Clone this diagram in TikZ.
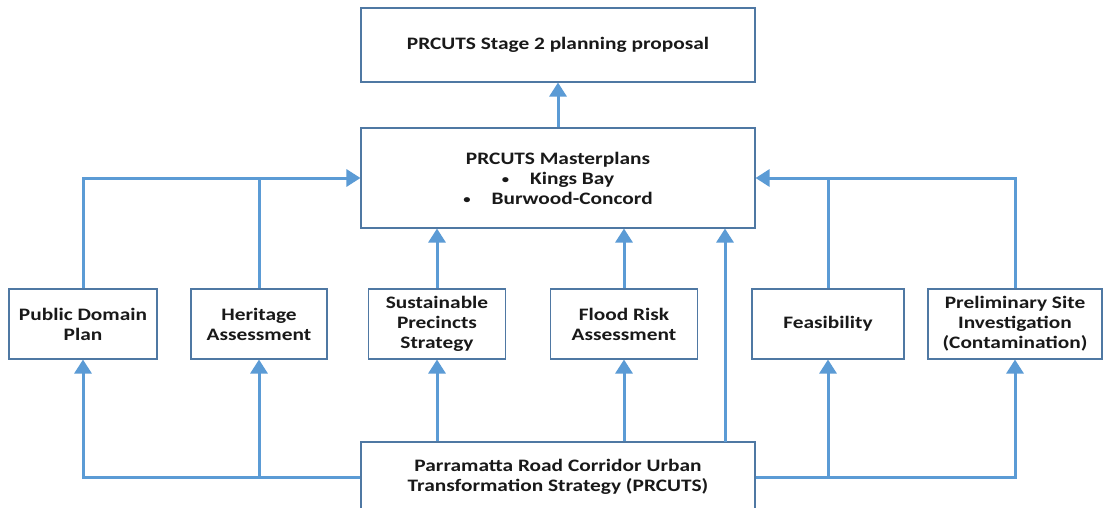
\documentclass[tikz,border=0pt]{standalone}
\usepackage{fontspec}
\setmainfont[FakeStretch=1.22]{Carlito}
\usetikzlibrary{arrows.meta}
\definecolor{feedblue}{HTML}{5B9BD5}
\definecolor{boxline}{HTML}{4F78A3}
\newcommand{\smallbullet}{\raisebox{1pt}{\fontsize{12}{12}\selectfont\textbullet}\hspace{21pt}}
\tikzset{
  box/.style={draw=boxline, line width=1.1pt, fill=white, align=center, inner sep=0pt,
    text=black!90, font=\bfseries\fontsize{17.5}{20}\selectfont},
  feed/.style={draw=feedblue, line width=3pt, -{Triangle[width=17pt,length=14pt]}},
  plainfeed/.style={draw=feedblue, line width=3pt}
}
\begin{document}
\begin{tikzpicture}[x=1pt,y=-1pt]
\clip (0,0) rectangle (1110,508);
\fill[white] (0,0) rectangle (1110,508);
% upper part
\node[box, minimum width=394pt, minimum height=74pt] (stage)at(558,45){PRCUTS Stage 2 planning proposal};
\node[box, minimum width=394pt, minimum height=100pt] (master)at(558,178){PRCUTS Masterplans\\
  \smallbullet Kings Bay\\ \smallbullet Burwood-Concord};
% studies
\node[box, minimum width=148pt, minimum height=70pt] (pdp)at(83,324){Public Domain\\Plan};
\node[box, minimum width=136pt, minimum height=70pt] (her)at(259,324){Heritage\\Assessment};
\node[box, minimum width=137pt, minimum height=70pt] (sps)at(437,324){Sustainable\\Precincts\\Strategy};
\node[box, minimum width=147pt, minimum height=70pt] (frk)at(624,324){Flood Risk\\Assessment};
\node[box, minimum width=152pt, minimum height=70pt] (fea)at(828,324){Feasibility};
\node[box, minimum width=174pt, minimum height=70pt] (psi)at(1015,324){Preliminary Site\\Investigation\\(Contamination)};
% strategy
\node[box, minimum width=394pt, minimum height=70pt] (prc)at(558,477){Parramatta Road Corridor Urban\\Transformation Strategy (PRCUTS)};
\coordinate (tap)at(725,442);
% connectors
\draw [feed] (master.north)--(stage.south);
\draw [feed] (pdp.north) |- (master.west);
\draw [plainfeed] (her.north)--(her.north |- master.west);
\draw [feed] (psi.north) |- (master.east);
\draw [plainfeed] (fea.north)--(fea.north |- master.east);
\draw [feed] (sps.north)--(sps.north |- master.south);
\draw [feed] (frk.north)--(frk.north |- master.south);
\draw [feed] (tap)--(tap |- master.south);
\draw [feed] (prc.west) -| (pdp.south);
\draw [feed] (prc.west) -| (her.south);
\draw [feed] (prc.east) -| (psi.south);
\draw [feed] (prc.east) -| (fea.south);
\draw [feed] (sps.south |- prc.north)--(sps.south);
\draw [feed] (frk.south |- prc.north)--(frk.south);
\end{tikzpicture}
\end{document}
